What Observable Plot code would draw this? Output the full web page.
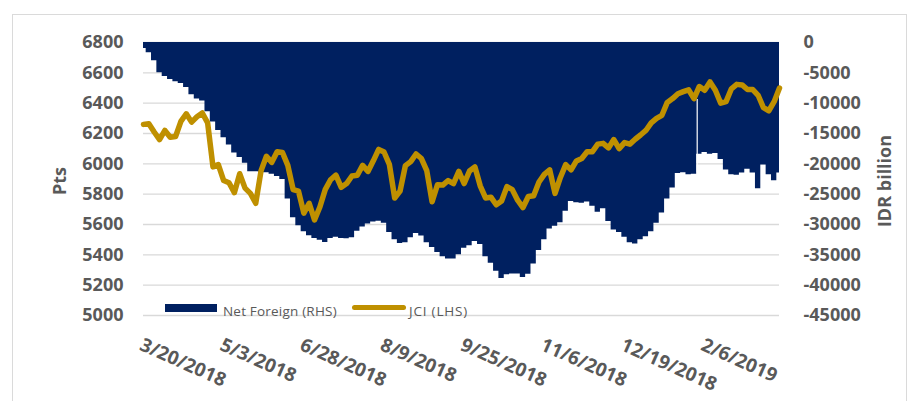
<!DOCTYPE html>
<html><head><meta charset="utf-8">
<script src="https://cdn.jsdelivr.net/npm/d3@7"></script>
<script src="https://cdn.jsdelivr.net/npm/@observablehq/plot@0.6"></script>
<style>
html,body{margin:0;padding:0;background:#fff;}
#wrap{position:relative;width:920px;height:401px;overflow:hidden;font-family:"Open Sans",sans-serif;}
#frame{position:absolute;left:12px;top:14px;width:895px;height:440px;border:1px solid #dadada;box-sizing:border-box;}
#chart{position:absolute;left:0;top:0;}
.leg{position:absolute;font-size:13.5px;line-height:16px;color:#595959;white-space:nowrap;letter-spacing:0.2px;}
</style></head><body>
<div id="wrap">
<div id="frame"></div>
<div id="chart"></div>
<div class="leg" style="left:165px;top:304px;width:52px;height:7.5px;background:#002060"></div>
<div class="leg" style="left:223px;top:303px;">Net Foreign (RHS)</div>
<div class="leg" style="left:352px;top:304.5px;width:54px;height:5px;border-radius:3px;background:#BF9000"></div>
<div class="leg" style="left:409px;top:303px;letter-spacing:0.8px;">JCI (LHS)</div>
</div>
<script>
// Category labels on the x axis (every 15th sample, each sample ~2 trading days)
const xLabels = ["3/20/2018","5/3/2018","6/28/2018","8/9/2018","9/25/2018","11/6/2018","12/19/2018","2/6/2019"];
const labelIndex = [0, 15, 30, 45, 60, 75, 90, 105];
const leftTicks = [5000, 5200, 5400, 5600, 5800, 6000, 6200, 6400, 6600, 6800];
const rightTicks = [0, -5000, -10000, -15000, -20000, -25000, -30000, -35000, -40000, -45000];

// JCI (LHS, pts)
const jci = [
6260, 6265, 6210, 6160, 6220, 6175, 6180, 6280, 6330, 6275,
6310, 6335, 6270, 5980, 5995, 5890, 5875, 5810, 5935, 5840,
5805, 5740, 5955, 6050, 6010, 6080, 6075, 5990, 5830, 5820,
5675, 5740, 5630, 5715, 5830, 5895, 5925, 5845, 5870, 5920,
5925, 5990, 5950, 6020, 6095, 6078, 5997, 5775, 5820, 5988,
6015, 6065, 6035, 5955, 5750, 5862, 5860, 5890, 5870, 5950,
5870, 5953, 5980, 5855, 5775, 5780, 5730, 5755, 5850, 5830,
5760, 5712, 5785, 5790, 5880, 5930, 5960, 5805, 5910, 5995,
5960, 6019, 6035, 6080, 6080, 6130, 6135, 6105, 6160, 6100,
6140, 6130, 6162, 6190, 6220, 6270, 6300, 6320, 6405, 6430,
6462, 6476, 6488, 6430, 6510, 6485, 6540, 6485, 6400, 6410,
6495, 6524, 6520, 6490, 6490, 6452, 6370, 6350, 6410, 6500
];

// Net Foreign cumulative (RHS, IDR billion)
const netForeign = [
-1000, -1700, -3000, -5000, -5600, -6100, -6450, -6750, -7400, -8600,
-9300, -9650, -11400, -13100, -14500, -15700, -16900, -18200, -18950, -19900,
-21300, -21300, -21400, -21450, -21700, -22100, -22600, -25800, -28900, -30200,
-31200, -31870, -32300, -32600, -32970, -32300, -32100, -32300, -32360, -32200,
-31100, -30400, -29900, -29600, -29450, -29800, -31300, -32500, -33150, -33000,
-32200, -31500, -31900, -33000, -33800, -34600, -35300, -35700, -35700, -35000,
-33900, -33500, -32800, -33300, -35300, -36400, -37700, -38900, -38300, -38160,
-38160, -38720, -38200, -36500, -34300, -32500, -30760, -30300, -29700, -27800,
-26200, -26400, -26500, -26300, -27000, -28000, -27400, -29500, -30900, -31300,
-32100, -33000, -33200, -32500, -32000, -31200, -29800, -28100, -25800, -24000,
-21600, -21450, -21800, -21700, -18400, -18150, -18400, -18300, -19300, -21000,
-21800, -21900, -21500, -20900, -21500, -24100, -20200, -21800, -22800, -21500
];

// single-day shallow reading inside the net foreign area
const dipDays = [{i: 103.6, value: -9400, next: -21450}];

const toPts = v => 6800 + v * (1800 / 45000);
const rows = jci.map((v, i) => ({i, jci: v, nf: netForeign[i]}));
const txt = {fontSize: 18, fontWeight: 700, fill: "#595959"};

const chart = Plot.plot({
  width: 920, height: 401,
  marginLeft: 143, marginRight: 141, marginTop: 42, marginBottom: 86,
  style: {background: "transparent", fontFamily: "'Open Sans', sans-serif", overflow: "visible"},
  x: {domain: [0, 119], axis: null},
  y: {domain: [5000, 6800], axis: null},
  marks: [
    Plot.ruleY(leftTicks, {stroke: "#d9d9d9", strokeWidth: 1.3}),
    Plot.areaY(rows, {x: "i", y1: () => 6800, y2: d => toPts(d.nf), fill: "#002060", curve: "step"}),
    Plot.ruleX(dipDays, {x: "i", y1: d => toPts(d.value), y2: d => toPts(d.next), stroke: "white", strokeWidth: 1.2}),
    Plot.lineY(rows, {x: "i", y: "jci", stroke: "#BF9000", strokeWidth: 5.5, strokeLinejoin: "round", strokeLinecap: "round"}),
    Plot.text(leftTicks, {y: d => d, text: d => String(d), frameAnchor: "left", dx: -20, textAnchor: "end", ...txt}),
    Plot.text(rightTicks, {y: d => toPts(d), text: d => String(d), frameAnchor: "right", dx: 24, textAnchor: "start", ...txt}),
    Plot.text(xLabels, {x: (d, i) => labelIndex[i], text: d => d, frameAnchor: "bottom", dy: 34, dx: -5, rotate: 24, textAnchor: "start", lineAnchor: "bottom", ...txt, fontSize: 19}),
    Plot.text(["Pts"], {text: d => d, frameAnchor: "left", dx: -83, dy: 2, rotate: -90, textAnchor: "middle", ...txt}),
    Plot.text(["IDR billion"], {text: d => d, frameAnchor: "right", dx: 106, dy: 2, rotate: -90, textAnchor: "middle", ...txt})
  ]
});
document.getElementById("chart").appendChild(chart);
</script>
</body></html>
